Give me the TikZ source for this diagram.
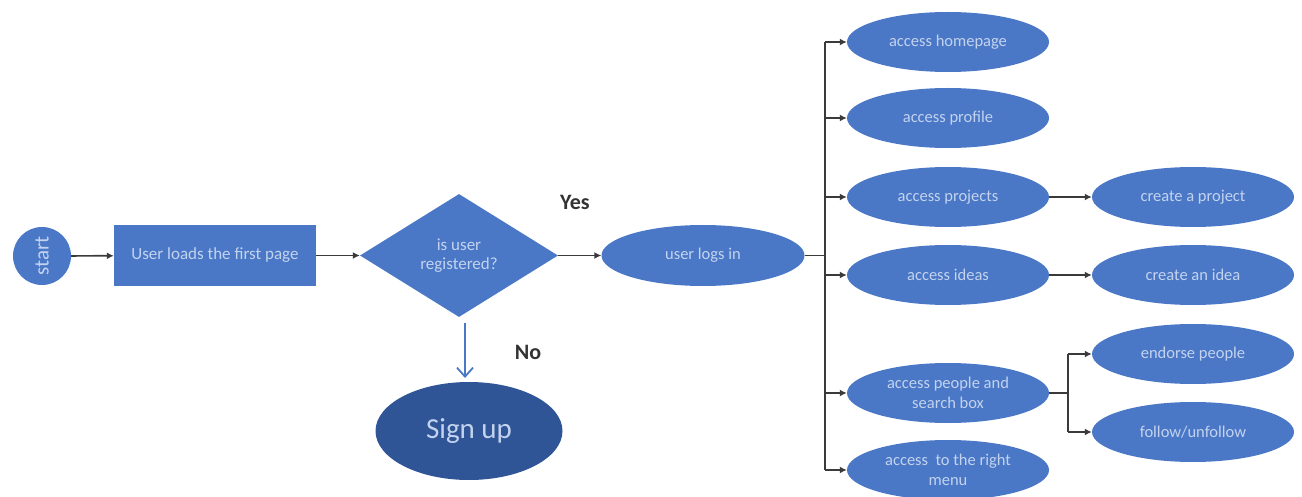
\documentclass[tikz,border=0pt]{standalone}
\usepackage{fontspec}
\setmainfont{Carlito}
\usetikzlibrary{shapes.geometric,arrows.meta}
\definecolor{boxblue}{HTML}{4A78C6}
\definecolor{darkblue}{HTML}{2F5597}
\definecolor{txtblue}{HTML}{C3D3EF}
\definecolor{linegray}{HTML}{3A3A3A}
\tikzset{
  ell/.style={ellipse, fill=boxblue, draw=none, minimum width=202pt, minimum height=60pt, inner sep=0pt, text=txtblue, font=\fontsize{16.5}{19.5}\selectfont, align=center},
  conn/.style={draw=linegray, line width=1.7pt, -{Latex[length=7pt,width=7pt]}},
  bus/.style={draw=linegray, line width=1.7pt},
  lab/.style={font=\bfseries\fontsize{22}{25}\selectfont, text=black!80},
}
\begin{document}
\begin{tikzpicture}[x=1pt,y=-1pt]
\useasboundingbox (0,0) rectangle (1302,497);
\node[circle, fill=boxblue, minimum size=58pt, inner sep=0pt, text=txtblue, font=\fontsize{21}{24}\selectfont, rotate=90] (start) at (42,256) {start};
\node[rectangle, fill=boxblue, minimum width=202pt, minimum height=61pt, inner sep=0pt, text=txtblue, font=\fontsize{17}{19}\selectfont] (load) at (215,255.5) {User loads the first page};
\node[diamond, fill=boxblue, minimum width=198pt, minimum height=123pt, inner sep=0pt, aspect=1.6, text=txtblue, font=\fontsize{17}{19.5}\selectfont, align=center] (reg) at (459,255.5) {is user\\registered?};
\node[ell, minimum width=203pt, minimum height=61pt] (login) at (703,255.5) {user logs in};
\node[ellipse, fill=darkblue, minimum width=187pt, minimum height=98pt, inner sep=0pt, text=txtblue, font=\fontsize{29}{32}\selectfont] (signup) at (469,431) {Sign up};
\node[lab] (yes) at (575,202) {Yes};
\node[lab] (no) at (528,352) {No};

\node[ell] (home) at (948,42) {access homepage};
\node[ell] (prof) at (948,118) {access profile};
\node[ell] (proj) at (948,197) {access projects};
\node[ell] (ideas) at (948,275) {access ideas};
\node[ell] (people) at (948,393) {access people and\\search box};
\node[ell] (menu) at (948,470) {access\ \ to the right\\menu};
\node[ell] (cproj) at (1193,197) {create a project};
\node[ell] (cidea) at (1193,275) {create an idea};
\node[ell] (endorse) at (1193,354) {endorse people};
\node[ell] (follow) at (1193,432) {follow/unfollow};

\coordinate (bustop) at (825,42);
\coordinate (busbot) at (825,470);
\coordinate (busmid) at (825,255.5);
\coordinate (pb) at (1068,393);
\coordinate (notop) at (465,323);
\coordinate (nobot) at (465,378);

\draw[conn] (start) -- (load);
\draw[conn] (load) -- (reg);
\draw[conn] (reg) -- (login);
\draw[draw=boxblue, line width=1.8pt, -{Straight Barb[length=9pt,width=16pt]}] (notop) -- (nobot);
\draw[bus] (login.east) -- (busmid);
\draw[bus] (bustop) -- (busbot);
\draw[conn] (bustop) -- (home);
\draw[conn] (prof.west -| bustop) -- (prof);
\draw[conn] (proj.west -| bustop) -- (proj);
\draw[conn] (ideas.west -| bustop) -- (ideas);
\draw[conn] (people.west -| bustop) -- (people);
\draw[conn] (busbot) -- (menu);
\draw[conn] (proj) -- (cproj);
\draw[conn] (ideas) -- (cidea);
\draw[bus] (people.east) -- (pb);
\draw[bus] (endorse.west -| pb) -- (follow.west -| pb);
\draw[conn] (endorse.west -| pb) -- (endorse);
\draw[conn] (follow.west -| pb) -- (follow);
\end{tikzpicture}
\end{document}
